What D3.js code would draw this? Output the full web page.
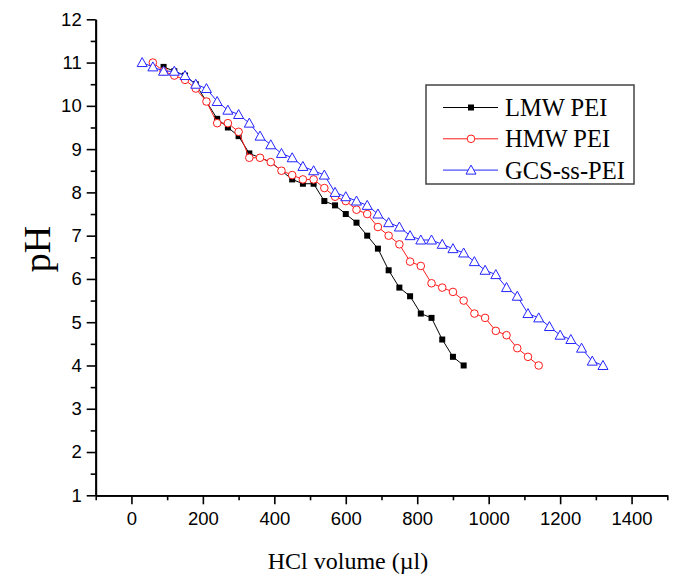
<!DOCTYPE html>
<html>
<head>
<meta charset="utf-8">
<script src="https://cdn.jsdelivr.net/npm/d3@7"></script>
<style>
  html, body { margin: 0; padding: 0; background: #fff; }
  svg { display: block; }
</style>
</head>
<body>
<div id="chart"></div>
<script>
// HCl volume (µl) vs pH (30 µl steps)
const lmwX = [90,120,150,180,210,240,270,300,330,360,390,420,450,480,510,540,570,600,630,660,690,720,750,780,810,840,870,900,930];
const lmwY = [10.9,10.8,10.7,10.5,10.1,9.7,9.5,9.3,8.9,8.8,8.7,8.5,8.3,8.2,8.2,7.8,7.7,7.5,7.3,7.0,6.7,6.2,5.8,5.6,5.2,5.1,4.6,4.2,4.0];

const hmwX = [60,90,120,150,180,210,240,270,300,330,360,390,420,450,480,510,540,570,600,630,660,690,720,750,780,810,840,870,900,930,960,990,1020,1050,1080,1110,1140];
const hmwY = [11.0,10.8,10.7,10.6,10.4,10.1,9.6,9.6,9.4,8.8,8.8,8.7,8.5,8.4,8.3,8.3,8.1,7.9,7.8,7.6,7.5,7.2,7.0,6.8,6.4,6.3,5.9,5.8,5.7,5.5,5.2,5.1,4.8,4.7,4.4,4.2,4.0];

const gcsX = [30,60,90,120,150,180,210,240,270,300,330,360,390,420,450,480,510,540,570,600,630,660,690,720,750,780,810,840,870,900,930,960,990,1020,1050,1080,1110,1140,1170,1200,1230,1260,1290,1320];
const gcsY = [11.0,10.9,10.8,10.8,10.7,10.5,10.4,10.1,9.9,9.8,9.6,9.3,9.1,8.9,8.8,8.6,8.5,8.4,8.0,7.9,7.8,7.7,7.5,7.3,7.2,7.0,6.9,6.9,6.8,6.7,6.6,6.4,6.2,6.1,5.8,5.6,5.2,5.1,4.9,4.7,4.6,4.4,4.1,4.0];

const seriesNames = ["LMW PEI", "HMW PEI", "GCS-ss-PEI"];
const xTicks = [0, 200, 400, 600, 800, 1000, 1200, 1400];
const yTicks = [1, 2, 3, 4, 5, 6, 7, 8, 9, 10, 11, 12];

const width = 678, height = 579;

const series = [
  { name: seriesNames[0], xs: lmwX, ys: lmwY, color: "#000000", symbol: "square" },
  { name: seriesNames[1], xs: hmwX, ys: hmwY, color: "#ff1a1a", symbol: "circle" },
  { name: seriesNames[2], xs: gcsX, ys: gcsY, color: "#2424ff", symbol: "triangle" }
];

const x = d3.scaleLinear().domain([-100, 1500]).range([95.7, 667.3]);
const y = d3.scaleLinear().domain([1, 12]).range([495.3, 19.3]);

const svg = d3.select("#chart").append("svg")
  .attr("width", width)
  .attr("height", height);

// axes
const xAxis = svg.append("g")
  .attr("transform", `translate(0,${y(1)})`)
  .call(d3.axisBottom(x).tickValues(xTicks).tickSize(9).tickPadding(8).tickSizeOuter(0).tickFormat(d3.format("d")));
const yAxis = svg.append("g")
  .attr("transform", `translate(${x(-100)},0)`)
  .call(d3.axisLeft(y).tickValues(yTicks).tickSize(9).tickPadding(5).tickSizeOuter(0));

// minor ticks
svg.append("g").attr("transform", `translate(0,${y(1)})`)
  .call(d3.axisBottom(x).tickValues(d3.range(-100, 1501, 200)).tickSize(5).tickFormat("").tickSizeOuter(0));
svg.append("g").attr("transform", `translate(${x(-100)},0)`)
  .call(d3.axisLeft(y).tickValues(d3.range(1.5, 12, 1)).tickSize(5).tickFormat("").tickSizeOuter(0));

svg.selectAll(".domain").attr("stroke", "#000").attr("stroke-width", 1.8);
svg.selectAll(".tick line").attr("stroke", "#000").attr("stroke-width", 1.6);
svg.selectAll(".tick text")
  .attr("font-family", "'Liberation Sans', Arial, sans-serif")
  .attr("font-size", 18.5)
  .attr("fill", "#000");

// axis titles
svg.append("text")
  .attr("x", 348)
  .attr("y", 569)
  .attr("text-anchor", "middle")
  .attr("font-family", "'Liberation Serif', 'Times New Roman', serif")
  .attr("font-size", 24)
  .text("HCl volume (\u00b5l)");

svg.append("text")
  .attr("transform", "translate(50,249) rotate(-90)")
  .attr("text-anchor", "middle")
  .attr("font-family", "'Liberation Serif', 'Times New Roman', serif")
  .attr("font-size", 38)
  .text("pH");

function drawSymbol(sel, s) {
  if (s.symbol === "square") {
    sel.append("rect")
      .attr("x", -3).attr("y", -3).attr("width", 6).attr("height", 6)
      .attr("fill", s.color);
  } else if (s.symbol === "circle") {
    sel.append("circle")
      .attr("r", 3.8)
      .attr("fill", "#fff").attr("stroke", s.color).attr("stroke-width", 1);
  } else {
    sel.append("path")
      .attr("d", "M0,-5 L5,4 L-5,4 Z")
      .attr("fill", "#fff").attr("stroke", s.color).attr("stroke-width", 1);
  }
}

const line = d3.line().x(d => x(d[0])).y(d => y(d[1]));

series.forEach(s => {
  const pts = s.xs.map((v, i) => [v, s.ys[i]]);
  svg.append("path")
    .datum(pts)
    .attr("fill", "none")
    .attr("stroke", s.color)
    .attr("stroke-width", 1)
    .attr("d", line);
  svg.append("g").selectAll("g")
    .data(pts)
    .enter().append("g")
    .attr("transform", d => `translate(${x(d[0])},${y(d[1])})`)
    .each(function() { drawSymbol(d3.select(this), s); });
});

// legend
const legend = svg.append("g").attr("transform", "translate(426,85)");
legend.append("rect")
  .attr("width", 208).attr("height", 99)
  .attr("fill", "#fff")
  .attr("stroke", "#444").attr("stroke-width", 1.5);

series.forEach((s, i) => {
  const row = legend.append("g").attr("transform", `translate(0,${22.5 + i * 31.3})`);
  row.append("line")
    .attr("x1", 17).attr("x2", 72)
    .attr("stroke", s.color).attr("stroke-width", 1);
  const m = row.append("g").attr("transform", "translate(45,0)");
  drawSymbol(m, s);
  row.append("text")
    .attr("x", 79).attr("y", 8.5)
    .attr("font-family", "'Liberation Serif', 'Times New Roman', serif")
    .attr("font-size", 24.5)
    .text(s.name);
});
</script>
</body>
</html>
